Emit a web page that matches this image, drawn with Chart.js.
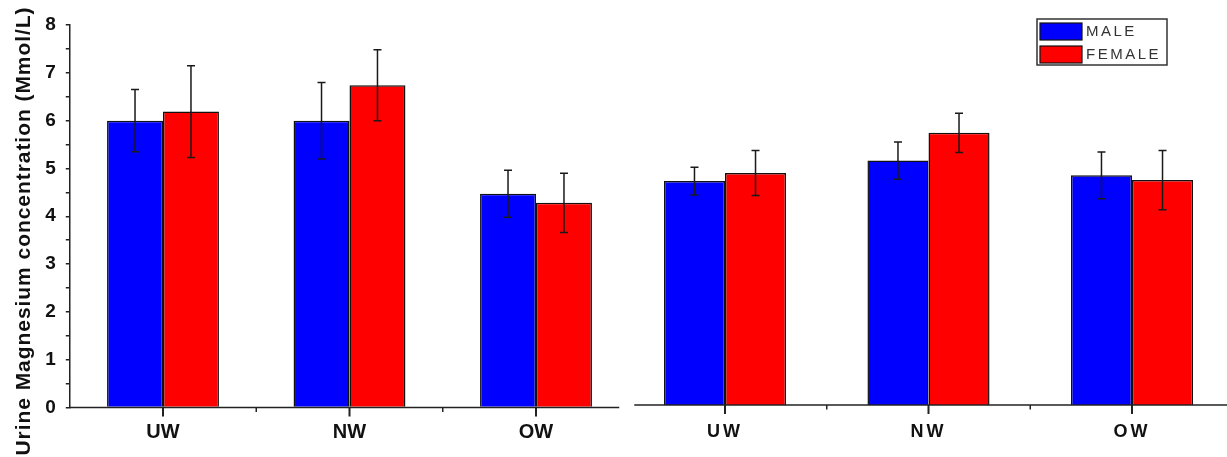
<!DOCTYPE html>
<html>
<head>
<meta charset="utf-8">
<script src="https://cdn.jsdelivr.net/npm/chart.js@4.4.1/dist/chart.umd.min.js"></script>
<style>
  html, body { margin: 0; padding: 0; background: #fff; overflow: hidden; }
  body { width: 1227px; height: 457px; position: relative; }
  .panel { position: absolute; top: 0; height: 457px; }
  #leftPanel { left: 0; width: 640px; }
  #rightPanel { left: 620px; width: 620px; }
</style>
</head>
<body>
<div class="panel" id="leftPanel"><canvas id="leftChart"></canvas></div>
<div class="panel" id="rightPanel"><canvas id="rightChart"></canvas></div>
<script>
const groups = ["UW", "NW", "OW"];
const seriesNames = ["MALE", "FEMALE"];
const seriesColors = ["#0000ff", "#ff0000"];
const yTitle = "Urine Magnesium concentration (Mmol/L)";

// left panel
const leftMale = [6.0, 6.0, 4.47];
const leftMaleErr = [0.65, 0.80, 0.49];
const leftFemale = [6.19, 6.74, 4.28];
const leftFemaleErr = [0.96, 0.74, 0.62];

// right panel
const rightMale = [4.69, 5.12, 4.81];
const rightMaleErr = [0.29, 0.39, 0.49];
const rightFemale = [4.86, 5.70, 4.71];
const rightFemaleErr = [0.47, 0.41, 0.62];

const FONT = "'Liberation Sans', Arial, sans-serif";

const errorBars = {
    id: "errorBars",
    afterDatasetsDraw(chart) {
        const ctx = chart.ctx;
        const y = chart.scales.y;
        ctx.save();
        ctx.strokeStyle = "#1a1a1a";
        ctx.lineWidth = 1.5;
        chart.data.datasets.forEach((ds, di) => {
            const meta = chart.getDatasetMeta(di);
            meta.data.forEach((bar, i) => {
                const v = ds.data[i];
                const e = ds.errors[i];
                const top = y.getPixelForValue(v + e);
                const bot = y.getPixelForValue(v - e);
                ctx.beginPath();
                ctx.moveTo(bar.x, top);
                ctx.lineTo(bar.x, bot);
                ctx.moveTo(bar.x - 4, top);
                ctx.lineTo(bar.x + 4, top);
                ctx.moveTo(bar.x - 4, bot);
                ctx.lineTo(bar.x + 4, bot);
                ctx.stroke();
            });
        });
        ctx.restore();
    }
};

// bottom axis line with major ticks at groups and minor ticks between them
const baseAxis = {
    id: "baseAxis",
    afterDraw(chart, args, opts) {
        const { ctx, chartArea } = chart;
        const x = chart.scales.x;
        const yb = chartArea.bottom;
        ctx.save();
        ctx.strokeStyle = "#222";
        ctx.lineWidth = 1.5;
        ctx.beginPath();
        ctx.moveTo(chartArea.left + opts.trimLeft, yb);
        ctx.lineTo(chartArea.right - opts.trimRight, yb);
        ctx.stroke();
        const n = chart.data.labels.length;
        for (let i = 0; i < n; i++) {
            const px = x.getPixelForValue(i);
            ctx.fillStyle = "#222";
            ctx.fillRect(px - 1, yb, 2, 9);
            if (i > 0) {
                const mid = x.getPixelForValue(i - 0.5);
                ctx.fillRect(mid - 0.75, yb, 1.5, 4.5);
            }
        }
        ctx.restore();
    }
};

const sideTitle = {
    id: "sideTitle",
    afterDraw(chart, args, opts) {
        const ctx = chart.ctx;
        ctx.save();
        ctx.translate(opts.x, opts.y);
        ctx.rotate(-Math.PI / 2);
        ctx.font = "bold 21px " + FONT;
        ctx.letterSpacing = "0.95px";
        ctx.fillStyle = "#111";
        ctx.textAlign = "center";
        ctx.textBaseline = "middle";
        ctx.fillText(opts.text, 0, 0);
        ctx.restore();
    }
};

const boxLegend = {
    id: "boxLegend",
    afterDraw(chart, args, opts) {
        const ctx = chart.ctx;
        ctx.save();
        ctx.letterSpacing = "2.5px";
        ctx.strokeStyle = "#333";
        ctx.lineWidth = 1.5;
        ctx.strokeRect(opts.x, opts.y, 130, 46);
        ctx.font = "15px " + FONT;
        ctx.textBaseline = "middle";
        chart.data.datasets.forEach((ds, i) => {
            const top = opts.y + 4 + i * 23;
            ctx.fillStyle = ds.backgroundColor;
            ctx.fillRect(opts.x + 3, top, 42, 17);
            ctx.strokeStyle = "#111";
            ctx.lineWidth = 1.2;
            ctx.strokeRect(opts.x + 3, top, 42, 17);
            ctx.fillStyle = "#333";
            ctx.fillText(ds.label, opts.x + 49, top + 9);
        });
        ctx.restore();
    }
};

function makeDatasets(male, maleErr, female, femaleErr) {
    return [
        { label: seriesNames[0], data: male, errors: maleErr, backgroundColor: seriesColors[0],
          borderColor: "#111", borderWidth: 1.5 },
        { label: seriesNames[1], data: female, errors: femaleErr, backgroundColor: seriesColors[1],
          borderColor: "#111", borderWidth: 1.5 }
    ];
}

Chart.defaults.font.family = FONT;

new Chart(document.getElementById("leftChart"), {
    type: "bar",
    data: {
        labels: groups,
        datasets: makeDatasets(leftMale, leftMaleErr, leftFemale, leftFemaleErr)
    },
    options: {
        responsive: true,
        maintainAspectRatio: false,
        animation: false,
        layout: { padding: { top: 25, right: 10.75, left: 0, bottom: 0 } },
        datasets: { bar: { categoryPercentage: 0.6, barPercentage: 1.0 } },
        plugins: {
            legend: { display: false },
            tooltip: { enabled: false },
            baseAxis: { trimLeft: 0, trimRight: 10 },
            sideTitle: { text: yTitle, x: 24, y: 231 }
        },
        scales: {
            x: {
                offset: true,
                grid: { display: false, drawTicks: false },
                border: { display: false },
                ticks: { color: "#111", font: { size: 20, weight: "bold" }, padding: 13 },
                afterFit(scale) { scale.height = 49.5; }
            },
            y: {
                min: 0,
                max: 8,
                grid: { drawOnChartArea: false, tickLength: 4, color: "#222", lineWidth: 1.5 },
                border: { display: true, color: "#222", width: 1.5 },
                ticks: {
                    stepSize: 0.5,
                    autoSkip: false,
                    padding: 10,
                    color: "#111",
                    font: { size: 19, weight: "bold" },
                    callback: v => (v % 1 === 0 ? v : "")
                },
                afterFit(scale) { scale.width = 69.75; }
            }
        }
    },
    plugins: [errorBars, baseAxis, sideTitle]
});

new Chart(document.getElementById("rightChart"), {
    type: "bar",
    data: {
        labels: groups,
        datasets: makeDatasets(rightMale, rightMaleErr, rightFemale, rightFemaleErr)
    },
    options: {
        responsive: true,
        maintainAspectRatio: false,
        animation: false,
        layout: { padding: { top: 23, right: 6.25, left: 3.25, bottom: 0 } },
        datasets: { bar: { categoryPercentage: 0.6, barPercentage: 1.0 } },
        plugins: {
            legend: { display: false },
            tooltip: { enabled: false },
            baseAxis: { trimLeft: 11, trimRight: 0 },
            boxLegend: { x: 417, y: 19 }
        },
        scales: {
            x: {
                offset: true,
                grid: { display: false, drawTicks: false },
                border: { display: false },
                ticks: { color: "#111", font: { size: 18, weight: "bold" }, padding: 16 },
                afterFit(scale) { scale.height = 52; }
            },
            y: { display: false, min: 0, max: 8 }
        }
    },
    plugins: [
        { id: "spacing", beforeDraw(chart) { chart.ctx.letterSpacing = "3px"; } },
        errorBars, baseAxis, boxLegend
    ]
});
</script>
</body>
</html>
